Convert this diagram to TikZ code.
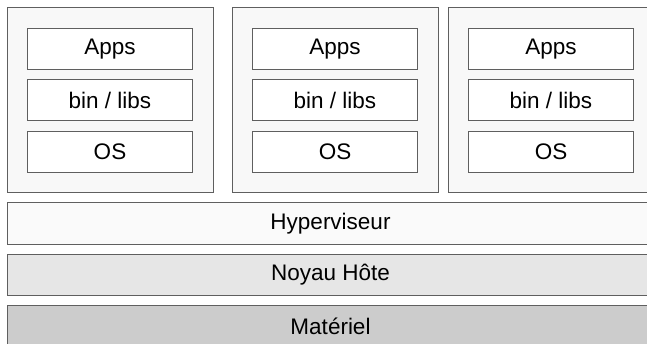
\documentclass[tikz,border=0pt]{standalone}
\usepackage{fontspec}
\setmainfont{Liberation Sans}
\definecolor{edge}{HTML}{5F5F5F}
\definecolor{vmfill}{HTML}{F8F8F8}
\definecolor{hypfill}{HTML}{FAFAFA}
\definecolor{kernfill}{HTML}{E6E6E6}
\definecolor{hwfill}{HTML}{CCCCCC}
\begin{document}
\begin{tikzpicture}[x=1pt,y=-1pt,
  vm/.style={draw=edge,fill=vmfill,line width=1pt,minimum width=206pt,minimum height=185pt,inner sep=0pt,anchor=north west},
  layer/.style={draw=edge,fill=white,line width=1pt,minimum width=165pt,minimum height=41pt,inner sep=0pt,anchor=north west,font=\fontsize{22.5}{25}\selectfont},
  bar/.style={draw=edge,line width=1pt,minimum width=646pt,minimum height=42pt,inner sep=0pt,anchor=north west,font=\fontsize{22.5}{25}\selectfont}]
\useasboundingbox (0,0) rectangle (647,344);
\clip (0,0) rectangle (647,344);
% trois machines virtuelles
\foreach \n/\x in {A/7,B/232,C/448} {
  \node[vm] (vm\n) at (\x,7) {};
  \node[layer] (apps\n) at ({\x+20},28) {Apps};
  \node[layer] (bin\n) at ({\x+20},79) {bin / libs};
  \node[layer] (os\n) at ({\x+20},131) {OS};
}
% couches communes
\node[bar,fill=hypfill] (hyp) at (7,202) {Hyperviseur};
\node[bar,fill=kernfill,minimum height=41pt] (kern) at (7,254) {Noyau Hôte};
\node[bar,fill=hwfill,minimum height=41pt] (hw) at (7,305) {Matériel};
\end{tikzpicture}
\end{document}
